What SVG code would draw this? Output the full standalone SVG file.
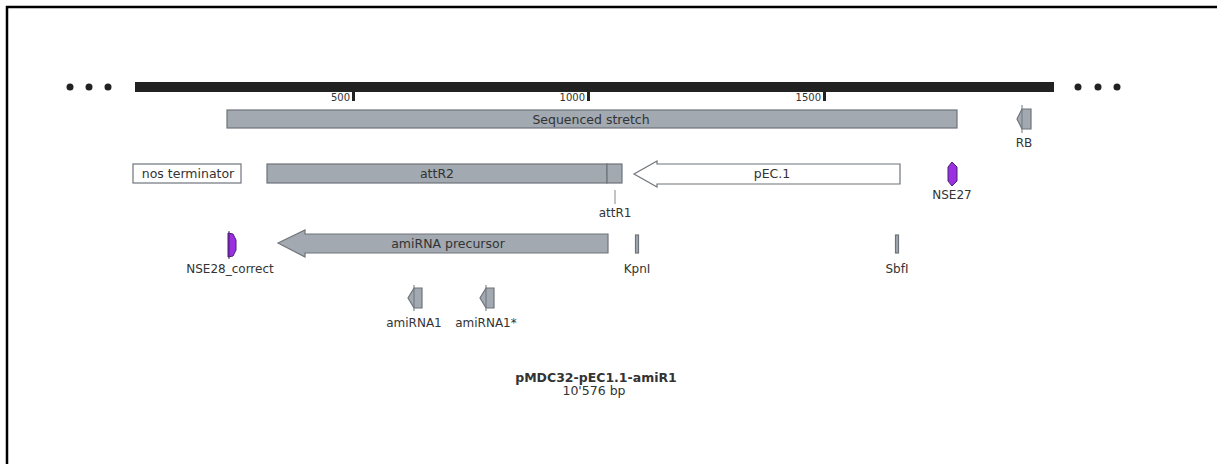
<svg xmlns="http://www.w3.org/2000/svg" width="1217" height="464" viewBox="0 0 1217 464">
<style>
text{font-family:"DejaVu Sans","Verdana",sans-serif;fill:#333;font-size:12.5px}
.c{text-anchor:middle}
.r{text-anchor:end}
.feat{fill:#a2a9b1;stroke:#6f747a;stroke-width:1.2}
.open{fill:#fff;stroke:#6f747a;stroke-width:1.2}
.pur{fill:#9b30e0;stroke:#4a2070;stroke-width:1}
.tick{fill:#222}
.dot{fill:#222}
.lbl{font-size:12px}
.num{font-size:10px}
</style>
<rect width="1217" height="464" fill="#fff"/>
<g id="frame">
<line x1="6" y1="7" x2="1217" y2="7" stroke="#000" stroke-width="2.5"/>
<line x1="7" y1="6" x2="7" y2="464" stroke="#000" stroke-width="2.5"/>
</g>
<g id="backbone">
<circle class="dot" cx="70" cy="87" r="3.5"/>
<circle class="dot" cx="89" cy="87" r="3.5"/>
<circle class="dot" cx="108" cy="87" r="3.5"/>
<rect x="135" y="82" width="919" height="10" fill="#222"/>
<circle class="dot" cx="1078" cy="87" r="3.5"/>
<circle class="dot" cx="1098" cy="87" r="3.5"/>
<circle class="dot" cx="1117" cy="87" r="3.5"/>
<rect class="tick" x="352" y="92" width="3" height="9"/>
<text class="r num" x="350" y="101">500</text>
<rect class="tick" x="587" y="92" width="3" height="9"/>
<text class="r num" x="585" y="101">1000</text>
<rect class="tick" x="823" y="92" width="3" height="9"/>
<text class="r num" x="821" y="101">1500</text>
</g>
<g id="sequenced-stretch">
<rect class="feat" x="227" y="110" width="730" height="18"/>
<text class="c" x="591" y="123.5">Sequenced stretch</text>
</g>
<g id="RB">
<polygon class="feat" points="1017,119 1022,109 1031,109 1031,129 1022,129"/>
<line x1="1022" y1="105" x2="1022" y2="133" stroke="#6f747a" stroke-width="1"/>
<text class="c lbl" x="1024" y="147">RB</text>
</g>
<g id="nos-terminator">
<rect class="open" x="133" y="164" width="108" height="19"/>
<text class="c" x="188" y="178">nos terminator</text>
</g>
<g id="attR2">
<rect class="feat" x="267" y="164" width="340" height="19"/>
<text class="c" x="437" y="178">attR2</text>
</g>
<g id="attR1">
<rect class="feat" x="607" y="164" width="15" height="19"/>
<line x1="615" y1="190" x2="615" y2="204" stroke="#888" stroke-width="1"/>
<text class="c lbl" x="615" y="217">attR1</text>
</g>
<g id="pEC1">
<polygon class="open" points="634,174 657,161 657,164 900,164 900,184 657,184 657,187"/>
<text class="c" x="772" y="178">pEC.1</text>
</g>
<g id="NSE27">
<polygon class="pur" points="952,162 957,167 957,181 952,186 948,181 948,167"/>
<text class="c lbl" x="952" y="199">NSE27</text>
</g>
<g id="amiRNA-precursor">
<polygon class="feat" points="278,243 305,230 305,234 608,234 608,253 305,253 305,257"/>
<text class="c" x="448" y="247.5">amiRNA precursor</text>
</g>
<g id="NSE28_correct">
<polygon class="pur" points="228,233 233,234 236,240 236,250 233,256 228,257"/>
<line x1="229" y1="231" x2="229" y2="259" stroke="#4a2070" stroke-width="1"/>
<text class="c lbl" x="230" y="273">NSE28_correct</text>
</g>
<g id="KpnI">
<rect class="feat" x="635.5" y="235" width="3" height="18"/>
<text class="c lbl" x="637" y="273">KpnI</text>
</g>
<g id="SbfI">
<rect class="feat" x="895.5" y="235" width="3" height="18"/>
<text class="c lbl" x="897" y="273">SbfI</text>
</g>
<g id="amiRNA1">
<polygon class="feat" points="408,298 414,288 422,288 422,308 414,308"/>
<line x1="414" y1="285" x2="414" y2="311" stroke="#6f747a" stroke-width="1"/>
<text class="c lbl" x="414" y="327">amiRNA1</text>
</g>
<g id="amiRNA1star">
<polygon class="feat" points="480,298 486,288 494,288 494,308 486,308"/>
<line x1="486" y1="285" x2="486" y2="311" stroke="#6f747a" stroke-width="1"/>
<text class="c lbl" x="486" y="327">amiRNA1*</text>
</g>
<g id="title">
<text class="c" x="596" y="382" font-size="16" font-weight="bold" fill="#222">pMDC32-pEC1.1-amiR1</text>
<text class="c" x="594" y="395" font-size="10.5">10'576 bp</text>
</g>
</svg>
